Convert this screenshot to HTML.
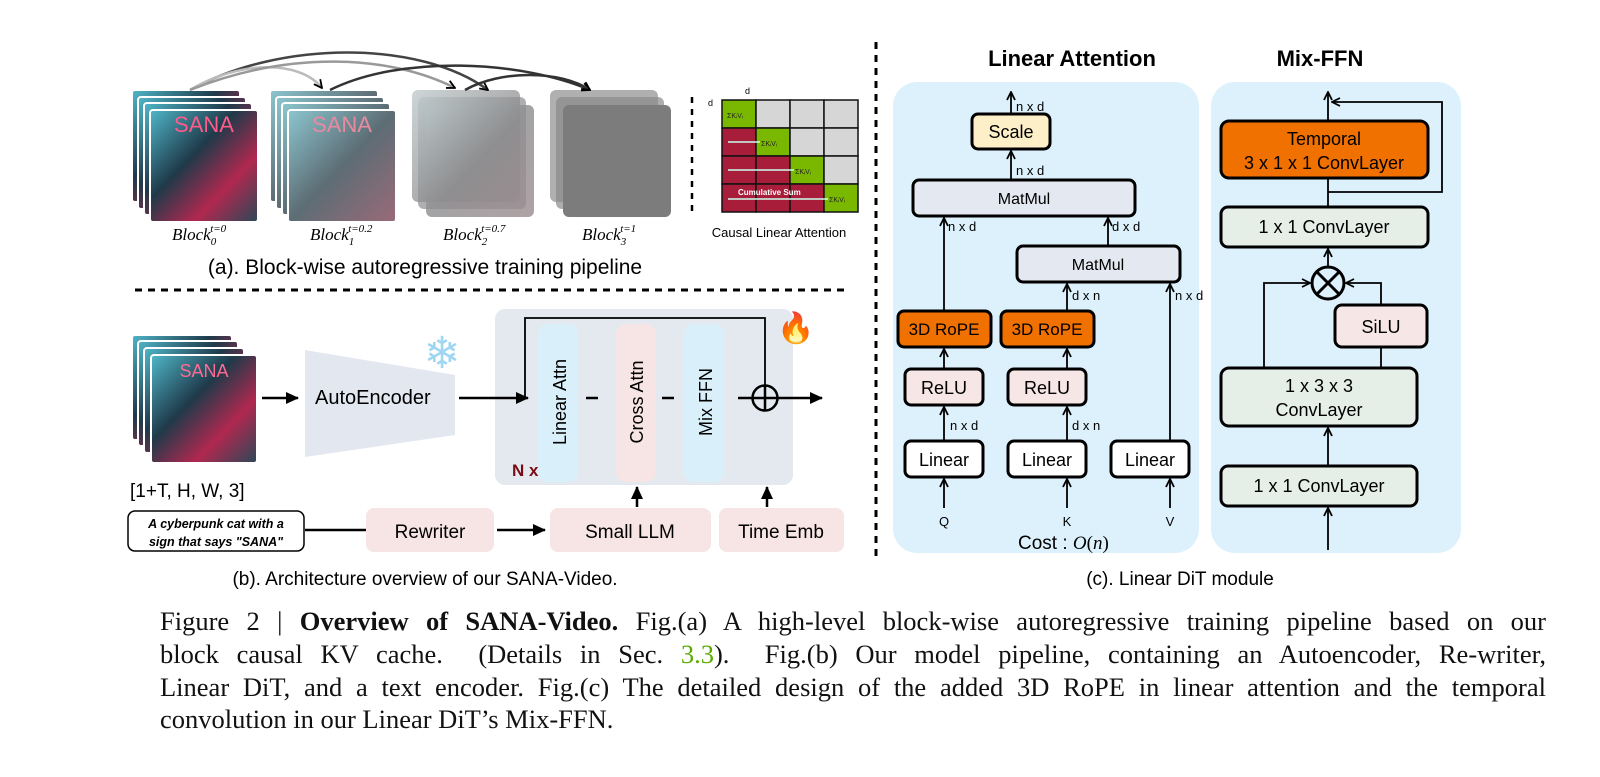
<!DOCTYPE html>
<html><head><meta charset="utf-8"><style>
body{margin:0;background:#fff;width:1600px;height:777px;overflow:hidden;position:relative}
svg{position:absolute;left:0;top:0}
.cap{position:absolute;left:160px;width:1386px;font-family:"Liberation Serif",serif;font-size:26.5px;color:#111;text-align:justify;text-align-last:justify;white-space:nowrap;line-height:28px}
.cap.last{text-align-last:left}
</style></head><body>
<svg width="1600" height="777" viewBox="0 0 1600 777" xmlns="http://www.w3.org/2000/svg" font-family="Liberation Sans, sans-serif">
<defs>
<marker id="ar" markerWidth="10" markerHeight="10" refX="9" refY="5" orient="auto" markerUnits="userSpaceOnUse"><path d="M1,1 L9,5 L1,9" fill="none" stroke="#000" stroke-width="1.8"/></marker>
<marker id="af" markerWidth="14" markerHeight="14" refX="12" refY="7" orient="auto" markerUnits="userSpaceOnUse"><path d="M0,1 L13,7 L0,13 Z" fill="#000"/></marker>
<linearGradient id="cat" x1="0" y1="0" x2="1" y2="1"><stop offset="0" stop-color="#4fb7c9"/><stop offset="0.4" stop-color="#1f3a4a"/><stop offset="0.7" stop-color="#b0284f"/><stop offset="1" stop-color="#2a4858"/></linearGradient>
<linearGradient id="cat2" x1="0" y1="0" x2="1" y2="1"><stop offset="0" stop-color="#8cc6cf"/><stop offset="0.5" stop-color="#5d6d75"/><stop offset="1" stop-color="#9a6a78"/></linearGradient>
<linearGradient id="cat3" x1="0" y1="0" x2="1" y2="1"><stop offset="0" stop-color="#b8c4c6"/><stop offset="0.5" stop-color="#8c8c8e"/><stop offset="1" stop-color="#9a8a8e"/></linearGradient>
</defs>

<!-- (a) stacks -->
<g>
<rect x="132" y="90" width="108" height="112" fill="url(#cat)" stroke="#fff" stroke-width="2" rx="3"/>
<rect x="138" y="97" width="108" height="112" fill="url(#cat)" stroke="#fff" stroke-width="2" rx="3"/>
<rect x="144" y="103" width="108" height="112" fill="url(#cat)" stroke="#fff" stroke-width="2" rx="3"/>
<rect x="150" y="110" width="108" height="112" fill="url(#cat)" stroke="#fff" stroke-width="2" rx="3"/>
<text x="204" y="132" font-size="22" fill="#ff5a8a" text-anchor="middle">SANA</text>
<rect x="270" y="90" width="108" height="112" fill="url(#cat2)" stroke="#fff" stroke-width="2" rx="3"/>
<rect x="276" y="97" width="108" height="112" fill="url(#cat2)" stroke="#fff" stroke-width="2" rx="3"/>
<rect x="282" y="103" width="108" height="112" fill="url(#cat2)" stroke="#fff" stroke-width="2" rx="3"/>
<rect x="288" y="110" width="108" height="112" fill="url(#cat2)" stroke="#fff" stroke-width="2" rx="3"/>
<text x="342" y="132" font-size="22" fill="#e88aa0" text-anchor="middle">SANA</text>
<rect x="412" y="90" width="108" height="112" fill="url(#cat3)" opacity="0.7" rx="6"/>
<rect x="418" y="97" width="108" height="112" fill="url(#cat3)" opacity="0.7" rx="6"/>
<rect x="426" y="105" width="108" height="112" fill="url(#cat3)" opacity="0.8" rx="6"/>
<rect x="550" y="90" width="108" height="112" fill="#8e8e8e" opacity="0.7" rx="6"/>
<rect x="556" y="97" width="108" height="112" fill="#8a8a8a" opacity="0.7" rx="6"/>
<rect x="563" y="105" width="108" height="112" fill="#7c7c7c" rx="6"/>
<path d="M190,90 C280,40 420,40 488,90" fill="none" stroke="#444" stroke-width="2.5" marker-end="url(#ar)"/>
<path d="M190,90 C240,60 300,60 322,88" fill="none" stroke="#bbb" stroke-width="2.5" marker-end="url(#ar)"/>
<path d="M190,90 C290,50 390,55 455,88" fill="none" stroke="#999" stroke-width="2.5" marker-end="url(#ar)"/>
<path d="M330,90 C400,55 520,60 590,90" fill="none" stroke="#333" stroke-width="2.5" marker-end="url(#ar)"/>
<path d="M465,90 C500,70 560,70 590,90" fill="none" stroke="#333" stroke-width="2.5" marker-end="url(#ar)"/>
<g font-family="Liberation Serif, serif" font-style="italic" font-size="17">
<text x="172" y="240">Block<tspan font-size="11" dy="5">0</tspan><tspan font-size="11" dx="-6" dy="-13">t=0</tspan></text>
<text x="310" y="240">Block<tspan font-size="11" dy="5">1</tspan><tspan font-size="11" dx="-6" dy="-13">t=0.2</tspan></text>
<text x="443" y="240">Block<tspan font-size="11" dy="5">2</tspan><tspan font-size="11" dx="-6" dy="-13">t=0.7</tspan></text>
<text x="582" y="240">Block<tspan font-size="11" dy="5">3</tspan><tspan font-size="11" dx="-6" dy="-13">t=1</tspan></text>
</g>
<line x1="692" y1="97" x2="692" y2="212" stroke="#000" stroke-width="2.5" stroke-dasharray="6,6"/>
<g stroke="#111" stroke-width="1.5">
<rect x="722" y="100" width="34" height="28" fill="#7ab800"/><rect x="756" y="100" width="34" height="28" fill="#d6d6d6"/><rect x="790" y="100" width="34" height="28" fill="#d6d6d6"/><rect x="824" y="100" width="34" height="28" fill="#d6d6d6"/>
<rect x="722" y="128" width="34" height="28" fill="#a81e3a"/><rect x="756" y="128" width="34" height="28" fill="#7ab800"/><rect x="790" y="128" width="34" height="28" fill="#d6d6d6"/><rect x="824" y="128" width="34" height="28" fill="#d6d6d6"/>
<rect x="722" y="156" width="34" height="28" fill="#a81e3a"/><rect x="756" y="156" width="34" height="28" fill="#a81e3a"/><rect x="790" y="156" width="34" height="28" fill="#7ab800"/><rect x="824" y="156" width="34" height="28" fill="#d6d6d6"/>
<rect x="722" y="184" width="34" height="28" fill="#a81e3a"/><rect x="756" y="184" width="34" height="28" fill="#a81e3a"/><rect x="790" y="184" width="34" height="28" fill="#a81e3a"/><rect x="824" y="184" width="34" height="28" fill="#7ab800"/>
</g>
<g stroke="#cfe" stroke-width="1.5"><line x1="728" y1="142" x2="760" y2="142"/><line x1="728" y1="170" x2="794" y2="170"/><line x1="728" y1="199" x2="828" y2="199"/></g>
<g font-size="7" fill="#222"><text x="727" y="118">ΣKᵢVᵢ</text><text x="761" y="146">ΣKᵢVᵢ</text><text x="795" y="174">ΣKᵢVᵢ</text><text x="829" y="202">ΣKᵢVᵢ</text></g>
<text x="738" y="195" font-size="8" fill="#fff" font-weight="bold">Cumulative Sum</text>
<text x="745" y="94" font-size="9">d</text><text x="708" y="106" font-size="9">d</text>
<text x="779" y="237" font-size="13" text-anchor="middle">Causal Linear Attention</text>
<text x="425" y="274" font-size="21" text-anchor="middle">(a). Block-wise autoregressive training pipeline</text>
<line x1="135" y1="290" x2="845" y2="290" stroke="#000" stroke-width="3" stroke-dasharray="7,6"/>
</g>

<!-- (b) -->
<g>
<rect x="132" y="335" width="100" height="105" fill="url(#cat)" stroke="#fff" stroke-width="2" rx="3"/>
<rect x="138" y="341" width="100" height="105" fill="url(#cat)" stroke="#fff" stroke-width="2" rx="3"/>
<rect x="144" y="348" width="100" height="105" fill="url(#cat)" stroke="#fff" stroke-width="2" rx="3"/>
<rect x="151" y="355" width="106" height="108" fill="url(#cat)" stroke="#fff" stroke-width="2" rx="3"/>
<text x="204" y="377" font-size="18" fill="#ff6a92" text-anchor="middle">SANA</text>
<text x="130" y="497" font-size="19">[1+T, H, W, 3]</text>
<line x1="262" y1="398" x2="298" y2="398" stroke="#000" stroke-width="2.5" marker-end="url(#af)"/>
<polygon points="305,350 455,375 455,435 305,457" fill="#e3e8f0"/>
<text x="315" y="404" font-size="20">AutoEncoder</text>
<text x="442" y="368" font-size="44" fill="#9fd6f2" text-anchor="middle">❄</text>
<rect x="495" y="309" width="298" height="176" rx="10" fill="#e4e9ef"/>
<rect x="538" y="324" width="40" height="158" rx="10" fill="#d9f0fb"/>
<rect x="616" y="324" width="40" height="158" rx="10" fill="#f7e4e4"/>
<rect x="684" y="324" width="40" height="158" rx="10" fill="#d9f0fb"/>
<g font-size="18" text-anchor="middle"><text transform="translate(566,402) rotate(-90)">Linear Attn</text><text transform="translate(643,402) rotate(-90)">Cross Attn</text><text transform="translate(712,402) rotate(-90)">Mix FFN</text></g>
<polyline points="459,398 528,398" fill="none" stroke="#000" stroke-width="2.5" marker-end="url(#af)"/>
<polyline points="525,398 525,318 765,318 765,385" fill="none" stroke="#000" stroke-width="1.8"/>
<g stroke="#000" stroke-width="2.5"><line x1="586" y1="398" x2="598" y2="398"/><line x1="662" y1="398" x2="674" y2="398"/><line x1="738" y1="398" x2="752" y2="398"/><line x1="778" y1="398" x2="822" y2="398" marker-end="url(#af)"/></g>
<circle cx="765" cy="398" r="12.5" fill="none" stroke="#000" stroke-width="2.5"/>
<line x1="753" y1="398" x2="777" y2="398" stroke="#000" stroke-width="2.5"/><line x1="765" y1="386" x2="765" y2="410" stroke="#000" stroke-width="2.5"/>
<text x="512" y="476" font-size="17" font-weight="bold" fill="#7a0a14">N x</text>
<text x="796" y="338" font-size="30" text-anchor="middle">🔥</text>
<rect x="128" y="511" width="176" height="40" rx="7" fill="#fff" stroke="#000" stroke-width="1.5"/>
<text x="216" y="528" font-size="12.5" font-style="italic" font-weight="bold" text-anchor="middle">A cyberpunk cat with a</text>
<text x="216" y="546" font-size="12.5" font-style="italic" font-weight="bold" text-anchor="middle">sign that says "SANA"</text>
<line x1="305" y1="530" x2="366" y2="530" stroke="#000" stroke-width="2.5"/>
<rect x="366" y="508" width="128" height="44" rx="8" fill="#f7e4e4"/><text x="430" y="538" font-size="19" text-anchor="middle">Rewriter</text>
<line x1="497" y1="530" x2="545" y2="530" stroke="#000" stroke-width="2.5" marker-end="url(#af)"/>
<rect x="550" y="508" width="161" height="44" rx="8" fill="#f7e4e4"/><text x="630" y="538" font-size="19" text-anchor="middle">Small LLM</text>
<rect x="719" y="508" width="125" height="44" rx="8" fill="#f7e4e4"/><text x="781" y="538" font-size="19" text-anchor="middle">Time Emb</text>
<line x1="637" y1="507" x2="637" y2="487" stroke="#000" stroke-width="2.5" marker-end="url(#af)"/>
<line x1="767" y1="507" x2="767" y2="487" stroke="#000" stroke-width="2.5" marker-end="url(#af)"/>
<text x="425" y="585" font-size="19" text-anchor="middle">(b). Architecture overview of our SANA-Video.</text>
</g>

<!-- (c) -->
<line x1="876" y1="42" x2="876" y2="556" stroke="#000" stroke-width="3" stroke-dasharray="7,6"/>
<text x="1072" y="66" font-size="22" font-weight="bold" text-anchor="middle">Linear Attention</text>
<text x="1320" y="66" font-size="22" font-weight="bold" text-anchor="middle">Mix-FFN</text>
<rect x="893" y="82" width="306" height="471" rx="24" fill="#ddf1fc"/>
<rect x="1211" y="82" width="250" height="471" rx="24" fill="#ddf1fc"/>
<g stroke="#000" stroke-width="3">
<rect x="972" y="114" width="78" height="35" rx="6" fill="#fdf0c8"/>
<rect x="913" y="180" width="222" height="36" rx="6" fill="#e4e8f0"/>
<rect x="1017" y="246" width="163" height="36" rx="6" fill="#e4e8f0"/>
<rect x="898" y="311" width="93" height="36" rx="6" fill="#f07000"/>
<rect x="1001" y="311" width="93" height="36" rx="6" fill="#f07000"/>
<rect x="905" y="369" width="78" height="36" rx="6" fill="#f7e6e6"/>
<rect x="1008" y="369" width="78" height="36" rx="6" fill="#f7e6e6"/>
<rect x="905" y="441" width="78" height="36" rx="6" fill="#fff"/>
<rect x="1008" y="441" width="78" height="36" rx="6" fill="#fff"/>
<rect x="1111" y="441" width="78" height="36" rx="6" fill="#fff"/>
</g>
<g font-size="18" text-anchor="middle">
<text x="1011" y="138">Scale</text>
<text x="1024" y="204" font-size="16">MatMul</text>
<text x="1098" y="270" font-size="16">MatMul</text>
<text x="944" y="335" font-size="17">3D RoPE</text>
<text x="1047" y="335" font-size="17">3D RoPE</text>
<text x="944" y="394">ReLU</text><text x="1047" y="394">ReLU</text>
<text x="944" y="466">Linear</text><text x="1047" y="466">Linear</text><text x="1150" y="466">Linear</text>
</g>
<g stroke="#000" stroke-width="1.8" fill="none">
<line x1="1011" y1="113" x2="1011" y2="92" marker-end="url(#ar)"/>
<line x1="1011" y1="179" x2="1011" y2="151" marker-end="url(#ar)"/>
<line x1="944" y1="310" x2="944" y2="218" marker-end="url(#ar)"/>
<line x1="1108" y1="245" x2="1108" y2="218" marker-end="url(#ar)"/>
<line x1="1067" y1="310" x2="1067" y2="284" marker-end="url(#ar)"/>
<line x1="1170" y1="440" x2="1170" y2="284" marker-end="url(#ar)"/>
<line x1="944" y1="368" x2="944" y2="349" marker-end="url(#ar)"/>
<line x1="1067" y1="368" x2="1067" y2="349" marker-end="url(#ar)"/>
<line x1="944" y1="440" x2="944" y2="407" marker-end="url(#ar)"/>
<line x1="1067" y1="440" x2="1067" y2="407" marker-end="url(#ar)"/>
<line x1="944" y1="508" x2="944" y2="479" marker-end="url(#ar)"/>
<line x1="1067" y1="508" x2="1067" y2="479" marker-end="url(#ar)"/>
<line x1="1170" y1="508" x2="1170" y2="479" marker-end="url(#ar)"/>
</g>
<g font-size="13">
<text x="1016" y="111">n x d</text><text x="1016" y="175">n x d</text><text x="948" y="231">n x d</text><text x="1112" y="231">d x d</text>
<text x="1072" y="300">d x n</text><text x="1175" y="300">n x d</text><text x="950" y="430">n x d</text><text x="1072" y="430">d x n</text>
<text x="944" y="526" text-anchor="middle">Q</text><text x="1067" y="526" text-anchor="middle">K</text><text x="1170" y="526" text-anchor="middle">V</text>
</g>
<text x="1018" y="549" font-size="19">Cost : <tspan font-family="Liberation Serif, serif" font-style="italic">O</tspan><tspan font-family="Liberation Serif, serif">(</tspan><tspan font-family="Liberation Serif, serif" font-style="italic">n</tspan><tspan font-family="Liberation Serif, serif">)</tspan></text>
<!-- Mix-FFN -->
<g stroke="#000" stroke-width="3">
<rect x="1221" y="121" width="207" height="57" rx="8" fill="#f07000"/>
<rect x="1221" y="207" width="207" height="40" rx="7" fill="#e6eee8"/>
<rect x="1335" y="305" width="92" height="42" rx="7" fill="#f7e6e6"/>
<rect x="1221" y="368" width="196" height="58" rx="8" fill="#e6eee8"/>
<rect x="1221" y="466" width="196" height="40" rx="7" fill="#e6eee8"/>
</g>
<g stroke="#000" stroke-width="1.8" fill="none">
<line x1="1328" y1="120" x2="1328" y2="92" marker-end="url(#ar)"/>
<polyline points="1328,192 1442,192 1442,102 1332,102" marker-end="url(#ar)"/>
<line x1="1328" y1="179" x2="1328" y2="206"/>
<line x1="1328" y1="266" x2="1328" y2="249" marker-end="url(#ar)"/>
<polyline points="1264,367 1264,283 1310,283" marker-end="url(#ar)"/>
<polyline points="1381,304 1381,283 1346,283" marker-end="url(#ar)"/>
<line x1="1381" y1="348" x2="1381" y2="367"/>
<line x1="1328" y1="465" x2="1328" y2="428" marker-end="url(#ar)"/>
<line x1="1328" y1="550" x2="1328" y2="508" marker-end="url(#ar)"/>
</g>
<circle cx="1328" cy="283" r="16" fill="none" stroke="#000" stroke-width="3"/>
<line x1="1317" y1="272" x2="1339" y2="294" stroke="#000" stroke-width="3"/><line x1="1339" y1="272" x2="1317" y2="294" stroke="#000" stroke-width="3"/>
<g font-size="18" text-anchor="middle">
<text x="1324" y="145">Temporal</text><text x="1324" y="169">3 x 1 x 1 ConvLayer</text>
<text x="1324" y="233">1 x 1 ConvLayer</text>
<text x="1381" y="333">SiLU</text>
<text x="1319" y="392">1 x 3 x 3</text><text x="1319" y="416">ConvLayer</text>
<text x="1319" y="492">1 x 1 ConvLayer</text>
</g>
<text x="1180" y="585" font-size="19" text-anchor="middle">(c). Linear DiT module</text>
</svg>
<div class="cap" style="top:607px">Figure 2 | <b>Overview of SANA-Video.</b> Fig.(a) A high-level block-wise autoregressive training pipeline based on our</div>
<div class="cap" style="top:640px">block causal KV cache. &nbsp;(Details in Sec. <span style="color:#5aaa00">3.3</span>). &nbsp;Fig.(b) Our model pipeline, containing an Autoencoder, Re-writer,</div>
<div class="cap" style="top:673px">Linear DiT, and a text encoder. Fig.(c) The detailed design of the added 3D RoPE in linear attention and the temporal</div>
<div class="cap last" style="top:705px">convolution in our Linear DiT’s Mix-FFN.</div>
</body></html>
